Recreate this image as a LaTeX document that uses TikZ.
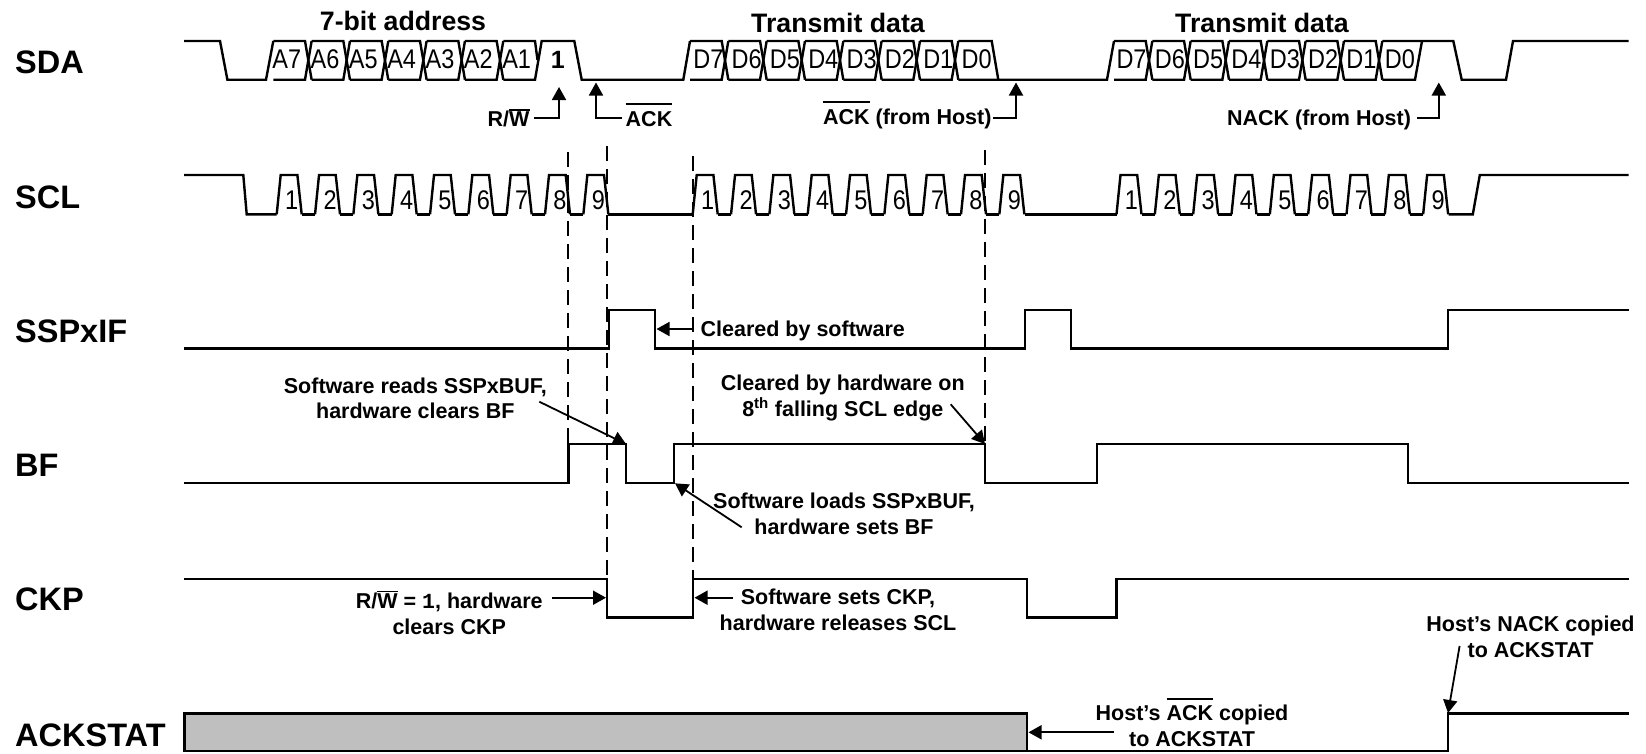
\documentclass[tikz,border=0pt]{standalone}
\usepackage{fontspec}
\setmainfont{Liberation Sans}
\newfontfamily\cellfont[FakeStretch=0.87]{Liberation Sans}
\newfontfamily\monob{Liberation Mono}
\usetikzlibrary{arrows.meta}
\newcommand{\ovl}[2]{\leavevmode\vbox{\hrule height 1.8pt \kern #1 \hbox{#2}}}
\tikzset{
  x=1pt,y=-1pt,
  wave/.style={line width=2.4pt,black},
  guide/.style={line width=1.7pt,black,dash pattern=on 15pt off 8pt},
  note/.style={font=\fontsize{21.5}{25.5}\selectfont\bfseries,align=center,inner sep=0pt},
  title/.style={font=\fontsize{26.7}{30}\selectfont\bfseries,inner sep=0pt},
  sig/.style={font=\fontsize{32.5}{36}\selectfont\bfseries,anchor=west,inner sep=0pt},
  cell/.style={font=\fontsize{27}{29}\cellfont,inner sep=0pt},
  pointer/.style={line width=1.8pt,black,-{Triangle[length=13pt,width=14pt]}},
}
\def\yT{41}\def\yL{79.7}\def\yH{175}\def\yB{214.3}
\newcommand{\buscells}[2]{% first top-left x, last index
  \foreach \i in {0,...,#2}{
    \pgfmathsetmacro{\xa}{#1+38.33*\i}
    \pgfmathsetmacro{\xb}{\xa+31.7}
    \pgfmathsetmacro{\xc}{\xa+38.33}
    \draw[wave] (\xa,\yT)--(\xb,\yT)--(\xc,\yL);
    \draw[wave] (\xa,\yL)--(\xb,\yL)--(\xc,\yT);
  }}
\newcommand{\clocks}[2]{% first rising bottom x, name prefix
  \foreach \i in {1,...,9}{
    \pgfmathsetmacro{\xa}{#1+38.33*(\i-1)}
    \pgfmathsetmacro{\xb}{\xa+4}
    \pgfmathsetmacro{\xc}{\xa+20.7}
    \pgfmathsetmacro{\xd}{\xa+25}
    \pgfmathsetmacro{\xn}{\xa+38.33}
    \pgfmathsetmacro{\xt}{\xa+15}
    \draw[wave] (\xa,\yB)--(\xb,\yH)--(\xc,\yH)--(\xd,\yB);
    \ifnum\i<9 \draw[wave] (\xd,\yB)--(\xn,\yB);\fi
    \node[cell] (#2\i) at (\xt,200) {\i};
  }}
\begin{document}
\begin{tikzpicture}
\useasboundingbox (0,0) rectangle (1646,753);
% guides
\coordinate (g1a) at (568.3,152); \coordinate (g1b) at (568.3,444);
\coordinate (g2a) at (606.8,146); \coordinate (g2b) at (606.8,579);
\coordinate (g3a) at (692.8,156); \coordinate (g3b) at (692.8,579);
\coordinate (g4a) at (985,150);   \coordinate (g4b) at (985,444);
\draw[guide] (g1a)--(g1b);
\draw[guide] (g2a)--(g2b);
\draw[guide] (g3a)--(g3b);
\draw[guide] (g4a)--(g4b);
% signal names
\node[sig] (nSDA) at (15,62) {SDA};
\node[sig] (nSCL) at (15,197) {SCL};
\node[sig] (nIF) at (15,331) {SSPxIF};
\node[sig] (nBF) at (15,465) {BF};
\node[sig] (nCKP) at (15,599) {CKP};
\node[sig] (nACK) at (15,735) {ACKSTAT};
% SDA
\draw[wave] (184,\yT)--(220,\yT)--(227.4,\yL)--(266,\yL)--(273.3,\yT);
\buscells{273.3}{5}
\draw[wave] (503.3,\yT)--(535,\yT)--(537.5,60);
\draw[wave] (503.3,\yL)--(535,\yL)--(541.7,\yT)--(574.3,\yT)--(581.7,\yL)--(683.3,\yL)--(690,\yT);
\buscells{690}{6}
\draw[wave] (958.3,\yL)--(1107,\yL)--(1114,\yT);
\draw[wave] (958.3,\yT)--(991.7,\yT)--(998.3,\yL);
\buscells{1114}{6}
\draw[wave] (1382.3,\yT)--(1453.3,\yT)--(1461.7,\yL)--(1506,\yL)--(1513,\yT)--(1628.5,\yT);
\draw[wave] (1382.3,\yL)--(1415,\yL)--(1422,\yT);
\foreach \t [count=\i from 0] in {A7,A6,A5,A4,A3,A2,A1}{
  \pgfmathsetmacro{\xt}{286.7+38.33*\i}
  \node[cell] (a\i) at (\xt,59.5) {\t};}
\node[font=\fontsize{25}{27}\selectfont\bfseries,inner sep=0pt] (rwbit) at (557.7,60) {1};
\foreach \t [count=\i from 0] in {D7,D6,D5,D4,D3,D2,D1,D0}{
  \pgfmathsetmacro{\xt}{708.3+38.33*\i}
  \pgfmathsetmacro{\xu}{1131.5+38.33*\i}
  \node[cell] (d\i) at (\xt,59.5) {\t};
  \node[cell] (e\i) at (\xu,59.5) {\t};}
\node[title] (t1) at (403,21) {7-bit address};
\node[title] (t2) at (838,23) {Transmit data};
\node[title] (t3) at (1262,23) {Transmit data};
% SDA annotations
\node[note] (lrw) at (508.6,118) {R/\ovl{1.5pt}{W}};
\coordinate (rwS) at (534,117.7); \coordinate (rwC) at (559,117.7); \coordinate (rwT) at (559,87);
\draw[pointer] (rwS)--(rwC)--(rwT);
\node[note] (lack) at (649,115) {\ovl{6pt}{ACK}};
\coordinate (akS) at (621.7,117.7); \coordinate (akC) at (596,117.7); \coordinate (akT) at (596,82.5);
\draw[pointer] (akS)--(akC)--(akT);
\node[note] (lhack) at (907.3,115) {\ovl{6pt}{ACK} (from Host)};
\coordinate (haS) at (993.3,117.7); \coordinate (haC) at (1016,117.7); \coordinate (haT) at (1016,82.5);
\draw[pointer] (haS)--(haC)--(haT);
\node[note] (lnack) at (1319,119.5) {NACK (from Host)};
\coordinate (naS) at (1416.8,117.7); \coordinate (naC) at (1438.8,117.7); \coordinate (naT) at (1438.8,82.5);
\draw[pointer] (naS)--(naC)--(naT);
% SCL
\draw[wave] (184,\yH)--(243.3,\yH)--(246.7,\yB)--(276.7,\yB);
\clocks{276.7}{c}
\draw[wave] (608.3,\yB)--(692.7,\yB);
\clocks{692.7}{p}
\draw[wave] (1024.7,\yB)--(1116.5,\yB);
\clocks{1116.5}{q}
\draw[wave] (1448.5,\yB)--(1472.8,\yB)--(1479.8,\yH)--(1628.5,\yH);
% SSPxIF
\draw[wave] (184,348.3)--(609,348.3)--(609,310)--(655,310)--(655,348.3)--(1025,348.3)--(1025,310)--(1071,310)--(1071,348.3)--(1448,348.3)--(1448,310)--(1628.5,310);
\node[note] (lclr) at (802.8,330.5) {Cleared by software};
\coordinate (csS) at (692.7,329); \coordinate (csT) at (656.5,329);
\draw[pointer] (csS)--(csT);
% BF
\draw[wave] (184,482.7)--(568.3,482.7)--(568.3,444)--(626,444)--(626,482.7)--(674,482.7)--(674,444)--(985,444)--(985,482.7)--(1096.7,482.7)--(1096.7,444)--(1408,444)--(1408,482.7)--(1628.5,482.7);
\node[note] (lread) at (415.3,398.5) {Software reads SSPxBUF,\\hardware clears BF};
\coordinate (rdS) at (539.3,401.7); \coordinate (rdT) at (626,444);
\draw[pointer] (rdS)--(rdT);
\node[note] (lload) at (844,514) {Software loads SSPxBUF,\\hardware sets BF};
\coordinate (ldS) at (741.7,527.3); \coordinate (ldT) at (675,483.3);
\draw[pointer] (ldS)--(ldT);
\node[note] (lhw) at (842.8,398) {Cleared by hardware on\\8\textsuperscript{th} falling SCL edge};
\coordinate (hwS) at (950.7,404.3); \coordinate (hwT) at (985,444);
\draw[pointer] (hwS)--(hwT);
% CKP
\draw[wave] (184,579)--(606.8,579)--(606.8,617.3)--(693,617.3)--(693,579)--(1027,579)--(1027,617.3)--(1116.4,617.3)--(1116.4,579)--(1628.5,579);
\node[note] (lrw1) at (449.3,612.5) {R/\ovl{1.5pt}{W} = {\monob 1}, hardware\\clears CKP};
\coordinate (r1S) at (552.4,597.7); \coordinate (r1T) at (606,597.7);
\draw[pointer] (r1S)--(r1T);
\node[note] (lsw) at (838,610) {Software sets CKP,\\hardware releases SCL};
\coordinate (swS) at (733,597.7); \coordinate (swT) at (694.5,597.7);
\draw[pointer] (swS)--(swT);
% ACKSTAT
\draw[wave,fill=black!25!white] (184.5,713.3) rectangle (1027,751);
\draw[wave] (1027,751)--(1448,751)--(1448,713.3)--(1628.5,713.3);
\node[note] (lhak) at (1192,722) {Host’s \ovl{6pt}{ACK} copied\\to ACKSTAT};
\coordinate (hkS) at (1113.9,732.3); \coordinate (hkT) at (1028.5,732.3);
\draw[pointer] (hkS)--(hkT);
\node[note] (lhnk) at (1530.5,637) {Host’s NACK copied\\to ACKSTAT};
\coordinate (hnS) at (1459.6,646); \coordinate (hnT) at (1448,713);
\draw[pointer] (hnS)--(hnT);
\end{tikzpicture}
\end{document}
